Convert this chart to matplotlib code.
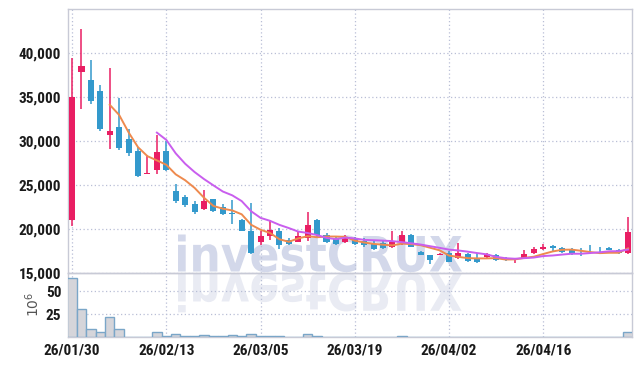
import numpy as np
import pandas as pd
import matplotlib
matplotlib.use("Agg")
import matplotlib.pyplot as plt
from matplotlib.textpath import TextPath
from matplotlib.patches import PathPatch
from matplotlib.font_manager import FontProperties, fontManager
from matplotlib.transforms import Affine2D

# pick a narrow face for the tick labels if one is installed
names = set(f.name for f in fontManager.ttflist)
label_font = 'DejaVu Sans'
for cand in ['Roboto Condensed', 'Liberation Sans Narrow', 'DejaVu Sans Condensed', 'Open Sans Condensed']:
    if cand in names:
        label_font = cand
        break
label_size = 11 if label_font != 'DejaVu Sans' else 9
plt.rcParams['font.family'] = [label_font, 'DejaVu Sans']

# daily candles (index = trading day)
opens = [21000, 37900, 36950, 35700, 30700, 31600, 30250, 28850, 26250, 26750,
         28850, 24300, 23600, 22850, 22300, 23350, 22450, 21750, 21050, 19750,
         18500, 19150, 19750, 18700, 18500, 18900, 21000, 19350, 18800, 18500,
         18850, 18600, 18300, 18350, 17950, 18500, 19350, 17350, 17000, 17050,
         17250, 16700, 17150, 16700, 16750, 17050, 16600, 16400, 16600, 17300,
         17700, 18050, 17850, 17600, 17300, 17300, 17400, 17850, 17600, 17250]
highs = [39400, 42700, 39200, 36350, 38350, 34950, 31350, 29300, 28400, 30650,
         30050, 25050, 23900, 23150, 24400, 23400, 22800, 23250, 21100, 22900,
         19750, 20950, 20100, 18950, 19800, 21950, 21100, 19550, 19100, 19250,
         19050, 18900, 18600, 18600, 19750, 19750, 19400, 17500, 17050, 17250,
         17450, 18400, 17300, 17250, 17300, 17150, 16800, 16700, 17550, 17900,
         18300, 18100, 17950, 17850, 17850, 18200, 17950, 17950, 17700, 21350]
lows = [20300, 33600, 34200, 31100, 29050, 28950, 28300, 25900, 26250, 26250,
        26600, 22950, 22450, 21650, 22150, 21950, 21550, 20500, 19700, 17100,
        18150, 18700, 17650, 18200, 18450, 18600, 19050, 18400, 18100, 18350,
        18150, 17950, 17550, 17650, 17850, 18200, 17900, 17000, 16000, 17000,
        16200, 16600, 16250, 16100, 16600, 16300, 16300, 16150, 16550, 17150,
        17550, 17500, 17300, 17050, 16900, 17100, 17200, 17550, 17100, 17150]
closes = [35000, 38550, 34500, 31400, 31150, 29200, 28650, 26050, 26300, 28750,
          26700, 23200, 22700, 21950, 23150, 22000, 21650, 21700, 19750, 17200,
          19150, 19850, 18100, 18300, 19150, 20400, 19250, 18500, 18300, 18950,
          18250, 18200, 17700, 17850, 18550, 19250, 17950, 17050, 16400, 17100,
          16250, 17200, 16350, 16250, 17100, 16400, 16400, 16450, 17100, 17750,
          17950, 17850, 17400, 17200, 17100, 17200, 17250, 17600, 17200, 19600]
# volume in millions of shares
volumes = [64, 30.5, 9, 5.8, 21.8, 8.2, 0.4, 0.3, 0.4, 5.5,
           0.8, 3.0, 0.6, 0.8, 1.8, 0.6, 0.7, 1.8, 0.9, 3.2,
           1.2, 1.0, 1.1, 0.4, 0.5, 3.5, 1.5, 0.3, 0.3, 0.3,
           0.3, 0.3, 0.3, 0.3, 0.3, 1.0, 0.25, 0.25, 0.25, 0.25,
           0.25, 0.25, 0.25, 0.25, 0.25, 0.25, 0.25, 0.25, 0.25, 0.25,
           0.25, 0.25, 0.25, 0.25, 0.25, 0.25, 0.25, 0.25, 0.25, 5.5]
date_ticks = [0, 10, 20, 30, 40, 50]
date_labels = ["26/01/30", "26/02/13", "26/03/05", "26/03/19", "26/04/02", "26/04/16"]
price_ticks = [15000, 20000, 25000, 30000, 35000, 40000]

up_col = '#e91e63'
down_col = '#3399cc'
grid_col = '#b9bfd6'
spine_col = '#c8cad6'

idx = np.arange(len(closes))
ma5 = pd.Series(closes).rolling(5).mean()
ma10 = pd.Series(closes).rolling(10).mean()

W, H = 642, 366
fig = plt.figure(figsize=(W / 100, H / 100), dpi=100)
fig.patch.set_facecolor('white')

left, right = 68.3, 632.3
ax = fig.add_axes([left / W, 1 - 272.7 / H, (right - left) / W, (272.7 - 9.3) / H])
axv = fig.add_axes([left / W, 1 - 337.0 / H, (right - left) / W, (337.0 - 272.7) / H], sharex=ax)
for a in (ax, axv):
    a.set_facecolor('none')
    for s in a.spines.values():
        s.set_color(spine_col)
        s.set_linewidth(1)
    a.grid(True, color=grid_col, linestyle=(0, (1, 2)), linewidth=0.9)
    a.tick_params(length=0, labelsize=label_size, colors='#1a1a1a')

# watermark + reflection
tp = TextPath((0, 0), "investCRUX", size=1, prop=FontProperties(family='DejaVu Sans', weight='bold'))
ext = tp.get_extents()
sx = (462 - 178) / ext.width
sy = 37 / ext.y1
tr = Affine2D().translate(-ext.x0, 0).scale(sx / W, sy / H).translate(178 / W, 1 - 271.5 / H) + fig.transFigure
fig.add_artist(PathPatch(tp, transform=tr, facecolor='#d3d8ea', edgecolor='none', zorder=-1))
tr2 = Affine2D().translate(-ext.x0, 0).scale(sx / W, -sy * 1.05 / H).translate(178 / W, 1 - 273.5 / H) + fig.transFigure
fig.add_artist(PathPatch(tp, transform=tr2, facecolor='#e9ebf3', edgecolor='none', zorder=-1))

# candles
for i in idx:
    o, h, l, c = opens[i], highs[i], lows[i], closes[i]
    col = up_col if c >= o else down_col
    ax.vlines(i, l, h, color=col, linewidth=1.1, zorder=3)
    body = max(abs(c - o), 60)
    ax.bar(i, body, bottom=min(o, c), width=0.64, color=col, zorder=4)

ax.plot(idx, ma5, color='#ee8a4e', linewidth=1.4, zorder=5)
ax.plot(idx, ma10, color='#c95eee', linewidth=1.4, zorder=5)

ax.set_ylim(15000, 45000)
ax.set_yticks(price_ticks)
ax.set_yticklabels(['{:,}'.format(v) for v in price_ticks], fontweight='bold')
ax.set_xlim(-0.4, 59.45)
ax.set_xticks(date_ticks)
ax.tick_params(labelbottom=False, pad=5)

# volume
axv.bar(idx, volumes, width=1.0, color='#d5d5da', edgecolor='#7aa6c8', linewidth=1, zorder=3)
axv.set_ylim(0, 70)
axv.set_yticks([25, 50])
axv.set_yticklabels(['25', '50'], fontweight='bold')
axv.set_xticks(date_ticks)
axv.set_xticklabels(date_labels, fontweight='bold')
axv.tick_params(pad=5)
fig.text(33 / W, 1 - 304 / H, r'$10^6$', rotation=90, ha='center', va='center',
         fontsize=10, color='#555555')

fig.savefig("out.png", dpi=100)
